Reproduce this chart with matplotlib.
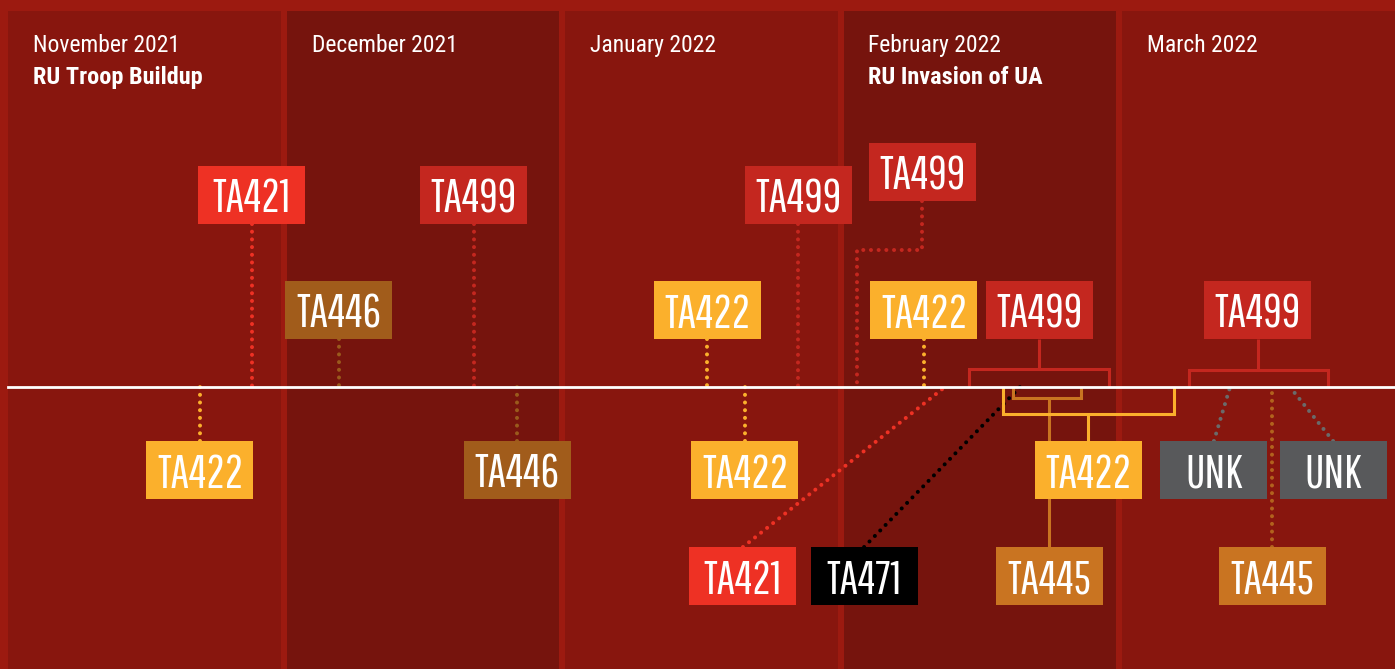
import matplotlib
matplotlib.use("Agg")
import matplotlib.pyplot as plt
from matplotlib.patches import Rectangle

# months on the timeline and the headline for each one
months = ["November 2021", "December 2021", "January 2022", "February 2022", "March 2022"]
headlines = ["RU Troop Buildup", "", "", "RU Invasion of UA", ""]

# actor boxes: label, position in months since Nov 1 2021, height above (+) / below (-) the timeline
box_labels = ["TA421", "TA422", "TA446", "TA499", "TA446", "TA422", "TA499", "TA422", "TA421", "TA471",
              "TA499", "TA422", "TA499", "TA422", "TA445", "TA499", "UNK", "UNK", "TA445"]
box_month = [0.876, 0.689, 1.188, 1.673, 1.828, 2.510, 2.837, 2.646, 2.639, 3.074,
             3.282, 3.289, 3.702, 3.878, 3.738, 4.488, 4.330, 4.758, 4.539]
box_level = [192, -83, 77, 192, -83, 77, 192, -83, -189, -189,
             215, 77, 77, -83, -189, 77, -83, -83, -189]

# where each box meets the timeline and how ("dot", "elbow", "bracket")
link_month = [0.876, 0.689, 1.188, 1.673, 1.828, 2.510, 2.837, 2.646, 3.364, 3.634,
              3.048, 3.289, None, None, None, None, 4.388, 4.603, 4.539]
link_kind = ["dot"] * 10 + ["elbow", "dot", "bracket", "bracket", "bracket", "bracket", "dot", "dot", "dot"]

# brackets: box index, left / right month of the bracket, depth of the bar from the timeline
bracket_box = [12, 15, 14, 13]
bracket_left = [3.451, 4.240, 3.608, 3.573]
bracket_right = [3.952, 4.741, 3.853, 4.186]
bracket_depth = [18, 17, -11, -27]

colors = {"TA421": "#ee3124", "TA499": "#c4271f", "TA422": "#fbb02c", "TA446": "#a15c1b",
          "TA445": "#c97421", "TA471": "#000000", "UNK": "#58595b"}
dot_colors = dict(colors, TA446="#9a5a1c", TA445="#b2621d", UNK="#6a6a6a")

BORDER = "#9c1a10"
PANEL = ["#88160e", "#76140d"]
PX = 278.5            # pixels per month
GAP = 6 / PX
BOX_W = 107 / PX
BOX_H = 58
CAP = 33

label_font = ["Pathway Gothic One", "Oswald", "DejaVu Sans"]
head_font = ["Roboto Condensed", "Pathway Gothic One", "DejaVu Sans"]

fig = plt.figure(figsize=(13.95, 6.69), dpi=100)
fig.patch.set_facecolor(BORDER)
ax = fig.add_axes([0, 0, 1, 1])
ax.set_xlim(-8 / PX, (1395 - 8) / PX)
ax.set_ylim(-282, 387)
ax.axis("off")

# month panels
for i, m in enumerate(months):
    w = 2 if i == len(months) - 1 else 1 - GAP
    ax.add_patch(Rectangle((i, -300), w, 676, color=PANEL[i % 2], lw=0, zorder=0))
    ax.text(i + 25 / PX, 335, m, color="white", fontsize=17, family=head_font, va="baseline")
    if headlines[i]:
        ax.text(i + 25 / PX, 303, headlines[i], color="white", fontsize=17.5, weight="bold",
                family=head_font, va="baseline")

dot_style = dict(lw=2.9, linestyle=(0, (0.01, 1.9)), dash_capstyle="round", zorder=2)

for lab, x, y, lx, kind in zip(box_labels, box_month, box_level, link_month, link_kind):
    edge = y - BOX_H / 2 if y > 0 else y + BOX_H / 2
    if kind == "dot":
        ax.plot([x, lx], [edge, 0], color=dot_colors[lab], **dot_style)
    elif kind == "elbow":
        ax.plot([x, x, lx, lx], [edge, 137, 137, 0], color=dot_colors[lab], **dot_style)

for b, l, r, d in zip(bracket_box, bracket_left, bracket_right, bracket_depth):
    lab = box_labels[b]
    x, y = box_month[b], box_level[b]
    edge = y - BOX_H / 2 if y > 0 else y + BOX_H / 2
    ax.plot([l, l, r, r], [0, d, d, 0], color=colors[lab], lw=2.2, zorder=2,
            solid_joinstyle="miter", solid_capstyle="butt")
    ax.plot([x, x], [d, edge], color=colors[lab], lw=2.2, zorder=2, solid_capstyle="butt")

# timeline
ax.plot([0, 6], [0, 0], color="white", lw=2, zorder=3)

for lab, x, y in zip(box_labels, box_month, box_level):
    ax.add_patch(Rectangle((x - BOX_W / 2, y - BOX_H / 2), BOX_W, BOX_H, color=colors[lab], lw=0, zorder=5))
    ax.text(x, y - CAP / 2 - 1, lab, color="white", fontsize=33, family=label_font,
            ha="center", va="baseline", zorder=6)

fig.savefig("out.png", facecolor=fig.get_facecolor())
